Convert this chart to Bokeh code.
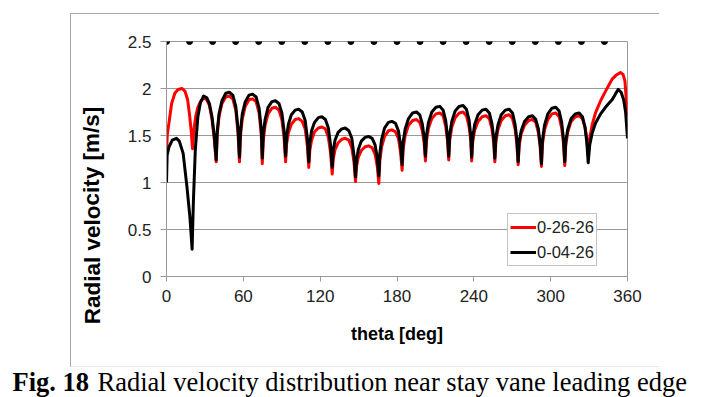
from bokeh.plotting import figure
from bokeh.models import Range1d, FixedTicker, Legend, LegendItem, Spacer
from bokeh.layouts import column, row
from bokeh.core.properties import value
from bokeh.embed import file_html
from bokeh.resources import INLINE

# ---------------- data ----------------
series_names = ["0-26-26", "0-04-26"]

theta_red = [
    0, 0.6, 2, 4, 6.5, 9, 12.2, 14.5, 16.5, 18, 19.3, 20.3,
    21.3, 22.8, 24.5, 26.5, 29, 31.5, 33.5, 35.5, 37.3,
    38.8, 39.6, 41.0, 43.3, 46.3, 49.0, 51.8, 54.1, 55.8,
    57, 57.8, 59.2, 61.5, 64.5, 67.2, 70, 72.3, 74.0,
    74.8, 75.6, 77.0, 79.3, 82.3, 85.0, 87.8, 90.1, 91.8,
    93, 93.8, 95.2, 97.5, 100.5, 103.2, 106, 108.3, 110.0,
    111.1, 111.9, 113.3, 115.6, 118.6, 121.3, 124.1, 126.4, 128.1,
    129.4, 130.2, 131.6, 133.9, 136.9, 139.6, 142.4, 144.7, 146.4,
    147.6, 148.4, 149.8, 152.1, 155.1, 157.8, 160.6, 162.9, 164.6,
    165.8, 166.6, 168.0, 170.3, 173.3, 176.0, 178.8, 181.1, 182.8,
    184, 184.8, 186.4, 189, 192.2, 195.2, 197.8, 199.8, 201.2,
    202.2, 203.0, 204.6, 207.2, 210.4, 213.4, 216.0, 218.0, 219.4,
    220.4, 221.2, 222.8, 225.4, 228.6, 231.6, 234.2, 236.2, 237.6,
    238.3, 239.1, 240.7, 243.3, 246.5, 249.5, 252.1, 254.1, 255.5,
    256.4, 257.2, 258.8, 261.4, 264.6, 267.6, 270.2, 272.2, 273.6,
    274.6, 275.4, 277.0, 279.6, 282.8, 285.8, 288.4, 290.4, 291.8,
    292.8, 293.6, 295.2, 297.8, 301.0, 304.0, 306.6, 308.6, 310.0,
    311, 311.8, 313.4, 316, 319.2, 322.2, 324.8, 326.8, 328.2,
    329.3, 330.5, 332.5, 335, 339, 342.8, 346, 348, 351, 354.5, 356.5, 358, 359.2, 360,
]
vel_red = [
    1.29, 1.51, 1.64, 1.84, 1.95, 1.99, 2.00, 1.97, 1.88, 1.72, 1.55, 1.36,
    1.55, 1.70, 1.80, 1.86, 1.90, 1.88, 1.82, 1.68, 1.46,
    1.22, 1.51, 1.70, 1.84, 1.91, 1.92, 1.89, 1.77, 1.54,
    1.22, 1.50, 1.68, 1.81, 1.88, 1.89, 1.86, 1.74, 1.51,
    1.20, 1.45, 1.61, 1.73, 1.79, 1.80, 1.77, 1.67, 1.48,
    1.22, 1.41, 1.53, 1.62, 1.67, 1.68, 1.65, 1.57, 1.39,
    1.16, 1.34, 1.45, 1.54, 1.58, 1.59, 1.57, 1.48, 1.32,
    1.09, 1.25, 1.35, 1.42, 1.46, 1.47, 1.45, 1.37, 1.22,
    1.01, 1.17, 1.27, 1.34, 1.38, 1.39, 1.37, 1.30, 1.17,
    0.99, 1.23, 1.38, 1.49, 1.55, 1.56, 1.54, 1.47, 1.32,
    1.13, 1.36, 1.50, 1.61, 1.66, 1.67, 1.64, 1.55, 1.42,
    1.23, 1.44, 1.58, 1.68, 1.73, 1.74, 1.71, 1.60, 1.45,
    1.24, 1.45, 1.59, 1.69, 1.74, 1.75, 1.71, 1.60, 1.45,
    1.23, 1.43, 1.56, 1.65, 1.70, 1.71, 1.68, 1.57, 1.43,
    1.22, 1.43, 1.56, 1.66, 1.71, 1.72, 1.68, 1.57, 1.41,
    1.19, 1.39, 1.52, 1.61, 1.66, 1.67, 1.64, 1.53, 1.38,
    1.17, 1.41, 1.56, 1.67, 1.73, 1.74, 1.70, 1.58, 1.42,
    1.18, 1.40, 1.54, 1.65, 1.70, 1.71, 1.68, 1.59, 1.47,
    1.29, 1.47, 1.62, 1.74, 1.87, 1.97, 2.05, 2.10, 2.14, 2.17, 2.15, 2.08, 1.85, 1.70,
]

theta_black = [
    0, 0.5, 2, 4.5, 7.8, 10, 13, 16, 18.3, 20,
    21, 22.5, 24.5, 26.5, 29, 31.5, 33.5, 35.5, 37.3,
    38.8, 39.6, 41.0, 43.3, 46.3, 49.0, 51.8, 54.1, 55.8,
    57, 57.8, 59.2, 61.5, 64.5, 67.2, 70, 72.3, 74.0,
    74.8, 75.6, 77.0, 79.3, 82.3, 85.0, 87.8, 90.1, 91.8,
    93, 93.8, 95.2, 97.5, 100.5, 103.2, 106, 108.3, 110.0,
    111.1, 111.9, 113.3, 115.6, 118.6, 121.3, 124.1, 126.4, 128.1,
    129.4, 130.2, 131.6, 133.9, 136.9, 139.6, 142.4, 144.7, 146.4,
    147.6, 148.4, 149.8, 152.1, 155.1, 157.8, 160.6, 162.9, 164.6,
    165.8, 166.6, 168.0, 170.3, 173.3, 176.0, 178.8, 181.1, 182.8,
    184, 184.8, 186.4, 189, 192.2, 195.2, 197.8, 199.8, 201.2,
    202.2, 203.0, 204.6, 207.2, 210.4, 213.4, 216.0, 218.0, 219.4,
    220.4, 221.2, 222.8, 225.4, 228.6, 231.6, 234.2, 236.2, 237.6,
    238.3, 239.1, 240.7, 243.3, 246.5, 249.5, 252.1, 254.1, 255.5,
    256.4, 257.2, 258.8, 261.4, 264.6, 267.6, 270.2, 272.2, 273.6,
    274.6, 275.4, 277.0, 279.6, 282.8, 285.8, 288.4, 290.4, 291.8,
    292.8, 293.6, 295.2, 297.8, 301.0, 304.0, 306.6, 308.6, 310.0,
    311, 311.8, 313.4, 316, 319.2, 322.2, 324.8, 326.8, 328.2,
    329.3, 330.5, 332.5, 335, 339, 342.8, 346, 348, 350.5, 352.7, 355, 357, 358.5, 360,
]
vel_black = [
    1.00, 1.29, 1.38, 1.45, 1.47, 1.44, 1.31, 0.95, 0.63, 0.29,
    0.80, 1.35, 1.70, 1.85, 1.92, 1.90, 1.84, 1.70, 1.50,
    1.24, 1.54, 1.73, 1.87, 1.95, 1.96, 1.93, 1.81, 1.58,
    1.27, 1.55, 1.73, 1.86, 1.93, 1.94, 1.91, 1.79, 1.57,
    1.26, 1.52, 1.67, 1.80, 1.86, 1.87, 1.84, 1.74, 1.55,
    1.28, 1.49, 1.62, 1.72, 1.77, 1.78, 1.75, 1.66, 1.47,
    1.22, 1.42, 1.55, 1.64, 1.69, 1.70, 1.67, 1.58, 1.40,
    1.16, 1.34, 1.45, 1.53, 1.57, 1.58, 1.55, 1.47, 1.29,
    1.06, 1.24, 1.35, 1.44, 1.48, 1.49, 1.47, 1.40, 1.26,
    1.07, 1.31, 1.46, 1.58, 1.64, 1.65, 1.63, 1.55, 1.40,
    1.19, 1.43, 1.57, 1.68, 1.74, 1.75, 1.72, 1.62, 1.48,
    1.28, 1.50, 1.64, 1.75, 1.80, 1.81, 1.77, 1.66, 1.50,
    1.28, 1.51, 1.65, 1.76, 1.81, 1.82, 1.78, 1.67, 1.50,
    1.27, 1.48, 1.62, 1.72, 1.77, 1.78, 1.74, 1.63, 1.48,
    1.26, 1.48, 1.61, 1.72, 1.77, 1.78, 1.74, 1.62, 1.46,
    1.22, 1.43, 1.55, 1.65, 1.70, 1.71, 1.67, 1.57, 1.41,
    1.20, 1.45, 1.61, 1.73, 1.79, 1.80, 1.76, 1.64, 1.46,
    1.22, 1.44, 1.57, 1.68, 1.73, 1.74, 1.70, 1.59, 1.43,
    1.21, 1.40, 1.53, 1.63, 1.73, 1.80, 1.85, 1.88, 1.94, 1.99, 1.96, 1.88, 1.75, 1.47,
]

vane_theta = [0, 18, 36, 54, 72, 90, 108, 126, 144, 162,
              180, 198, 216, 234, 252, 270, 288, 306, 324, 342]
vane_vel = [2.5] * 20

x_ticks = [0, 60, 120, 180, 240, 300, 360]
y_ticks = [0, 0.5, 1, 1.5, 2, 2.5]
y_tick_labels = ["0", "0.5", "1", "1.5", "2", "2.5"]

x_title = "theta [deg]"
y_title = ["Radial velocity [m/s]"]
caption_bold = ["Fig. 18"]
caption_text = ["Radial velocity distribution near stay vane leading edge"]

BOX = "1px solid #a8a8a8"
FAINT = "1px solid #e8e8e8"
GRID = "#999999"

# ---------------- y-title strip (left part of the outer box) ----------------
yt = figure(
    frame_width=40, frame_height=352,
    x_range=Range1d(0, 40), y_range=Range1d(0, 352),
    x_axis_location=None, y_axis_location=None,
    min_border=0, output_backend="svg", toolbar_location=None,
    background_fill_color="white", border_fill_color="white",
    styles={"border-top": BOX, "border-left": BOX, "border-bottom": FAINT},
)
yt.grid.visible = False
yt.outline_line_color = None
yt.text(x=[20], y=[179], text=y_title, angle=1.5708,
        text_font=value("Liberation Sans"), text_font_style="bold",
        text_font_size="22.5px", text_color="black",
        text_align="center", text_baseline="middle")

# ---------------- main chart ----------------
p = figure(
    frame_width=461, frame_height=233,
    min_border_left=55, min_border_right=32,
    min_border_top=27, min_border_bottom=92,
    x_range=Range1d(0, 360), y_range=Range1d(0, 2.5),
    output_backend="svg", toolbar_location=None,
    background_fill_color="white", border_fill_color="white",
    styles={"border-top": BOX, "border-bottom": FAINT},
)
p.outline_line_color = GRID
p.outline_line_width = 1

p.xgrid.grid_line_color = None
p.ygrid.grid_line_color = GRID
p.ygrid.grid_line_width = 1
p.ygrid.ticker = FixedTicker(ticks=y_ticks)

p.xaxis.ticker = FixedTicker(ticks=x_ticks)
p.yaxis.ticker = FixedTicker(ticks=y_ticks)
p.yaxis.major_label_overrides = {t: s for t, s in zip(y_ticks, y_tick_labels)}
for ax in (p.xaxis[0], p.yaxis[0]):
    ax.axis_line_color = GRID
    ax.major_tick_line_color = GRID
    ax.major_tick_in = 0
    ax.minor_tick_line_color = None
    ax.major_label_text_font = "Liberation Sans"
    ax.major_label_text_font_size = "17px"
    ax.major_label_text_color = "#222222"
p.xaxis.major_tick_out = 5
p.yaxis.major_tick_out = 6
p.xaxis.major_label_standoff = 8
p.yaxis.major_label_standoff = 9

p.xaxis.axis_label = x_title
p.xaxis.axis_label_text_font = "Liberation Sans"
p.xaxis.axis_label_text_font_style = "bold"
p.xaxis.axis_label_text_color = "black"
p.xaxis.axis_label_text_font_size = "18px"
p.xaxis.axis_label_standoff = 19

# series
r_red = p.line(theta_red, vel_red, line_color="#ff0000", line_width=3, line_join="round")
r_black = p.line(theta_black, vel_black, line_color="#000000", line_width=3, line_join="round")
p.scatter(vane_theta, vane_vel, size=6, color="black")

legend = Legend(
    items=[LegendItem(label=series_names[0], renderers=[r_red]),
           LegendItem(label=series_names[1], renderers=[r_black])],
    location=(341, 10),
    border_line_color="#888888", border_line_width=1,
    background_fill_color="white", background_fill_alpha=1,
    label_text_font="Liberation Sans", label_text_font_size="16.5px",
    label_text_color="#222222",
    glyph_width=26, glyph_height=22, label_height=22, label_standoff=1,
    spacing=3, padding=2, margin=0,
)
p.add_layout(legend)

# ---------------- caption strip ----------------
cap = figure(
    width=707, height=30,
    x_range=Range1d(0, 707), y_range=Range1d(0, 30),
    x_axis_location=None, y_axis_location=None,
    min_border=0, output_backend="svg", toolbar_location=None,
    background_fill_color="white", border_fill_color="white",
)
cap.grid.visible = False
cap.outline_line_color = None
cap.text(x=[12], y=[16], text=caption_bold, text_font=value("Liberation Serif"),
         text_font_style="bold", text_font_size="26.5px", text_color="black",
         text_baseline="alphabetic", text_align="left")
cap.text(x=[97], y=[16], text=caption_text, text_font=value("Liberation Serif"),
         text_font_size="26.5px", text_color="black",
         text_baseline="alphabetic", text_align="left")

layout = column(
    Spacer(width=707, height=13),
    row(Spacer(width=70, height=354), yt, p, Spacer(width=48, height=354)),
    cap,
    spacing=0,
)

open("out.html", "w").write(file_html(layout, INLINE))
